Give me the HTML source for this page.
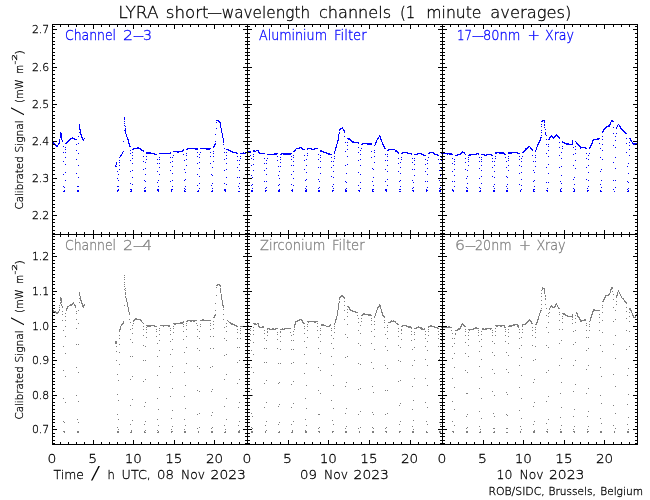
<!DOCTYPE html>
<html lang="en"><head><meta charset="utf-8"><title>LYRA short-wavelength channels</title>
<style>html,body{margin:0;padding:0;background:#fff}svg{display:block}</style></head>
<body>
<svg width="650" height="500" viewBox="0 0 650 500">
<rect width="650" height="500" fill="#fff"/>
<path shape-rendering="crispEdges" fill="none" stroke="#0000ff" stroke-width="1" d="M52.5 141v2M53.5 142v2M54.5 143v2M55.5 144v2M56.5 145v2M57.5 145v2M58.5 143v2M59.5 139v5M60.5 132v6M61.5 133v7M62.5 140v2M63.5 146v1M63.5 152v1M63.5 161v1M63.5 174v1M63.5 186v1M63.5 191v1M64.5 187v1M64.5 190v2M65.5 143v1M65.5 147v1M65.5 149v1M65.5 152v1M65.5 157v1M65.5 164v1M65.5 172v1M65.5 180v1M66.5 142v2M67.5 141v2M68.5 140v2M69.5 139v2M70.5 138v2M71.5 138v1M72.5 137v2M73.5 138v1M74.5 138v2M75.5 139v1M76.5 139v1M76.5 144v1M76.5 150v1M76.5 159v1M76.5 173v1M77.5 186v1M77.5 190v2M78.5 136v1M78.5 143v1M78.5 153v1M78.5 165v1M78.5 177v1M78.5 186v1M78.5 190v2M79.5 124v6M79.5 132v1M80.5 129v6M81.5 134v4M82.5 137v3M83.5 139v2M84.5 138v1M115.5 165v2M116.5 162v3M116.5 166v1M117.5 171v1M117.5 178v1M117.5 186v1M117.5 190v2M118.5 174v1M118.5 180v1M118.5 186v1M118.5 189v2M119.5 157v1M119.5 160v1M119.5 162v1M119.5 165v1M119.5 169v1M120.5 155v2M121.5 154v2M122.5 152v2M123.5 141v1M123.5 151v1M124.5 117v3M124.5 121v1M124.5 123v1M124.5 125v1M124.5 130v1M125.5 126v1M125.5 128v6M126.5 134v3M127.5 137v3M128.5 139v5M129.5 143v4M130.5 146v1M130.5 150v1M130.5 153v1M130.5 160v1M130.5 171v1M130.5 183v1M130.5 189v1M130.5 191v1M131.5 189v3M132.5 149v1M132.5 152v1M132.5 155v1M132.5 158v1M132.5 163v1M132.5 170v1M132.5 177v1M132.5 184v1M133.5 148v2M134.5 148v1M135.5 148v1M136.5 148v1M137.5 147v2M138.5 147v2M139.5 148v1M140.5 148v2M141.5 149v2M142.5 150v1M143.5 150v2M143.5 156v1M143.5 161v1M143.5 169v1M144.5 180v1M144.5 188v1M144.5 190v2M145.5 162v1M145.5 168v1M145.5 174v1M145.5 181v1M145.5 187v1M145.5 190v2M146.5 152v2M146.5 156v1M146.5 159v1M147.5 152v2M148.5 152v2M149.5 152v2M150.5 152v2M151.5 153v1M152.5 153v1M153.5 153v1M154.5 153v2M155.5 154v1M156.5 154v1M157.5 159v1M157.5 163v1M157.5 171v1M157.5 182v1M157.5 189v2M158.5 180v1M158.5 186v1M158.5 189v3M159.5 153v1M159.5 157v1M159.5 159v1M159.5 163v1M159.5 167v1M159.5 174v1M160.5 153v1M161.5 153v1M162.5 153v1M163.5 153v1M164.5 153v1M165.5 153v1M166.5 153v1M167.5 153v1M168.5 153v1M169.5 153v1M170.5 152v2M170.5 157v1M170.5 162v1M170.5 170v1M170.5 181v1M171.5 189v3M172.5 157v1M172.5 161v1M172.5 166v1M172.5 173v1M172.5 180v1M172.5 186v1M172.5 189v1M173.5 151v1M173.5 155v1M174.5 151v1M175.5 151v1M176.5 151v1M177.5 151v2M178.5 151v2M179.5 151v1M180.5 151v1M181.5 151v1M182.5 150v2M183.5 149v2M183.5 154v1M184.5 160v1M184.5 169v1M184.5 180v1M184.5 188v1M184.5 190v2M185.5 172v1M185.5 179v1M185.5 186v1M185.5 189v1M185.5 191v1M186.5 149v1M186.5 153v1M186.5 155v1M186.5 159v1M186.5 165v1M187.5 148v2M188.5 148v1M189.5 148v1M190.5 148v1M191.5 148v1M192.5 148v1M193.5 148v1M194.5 148v1M195.5 148v2M196.5 148v2M197.5 148v2M197.5 152v1M197.5 156v1M197.5 163v1M197.5 174v1M197.5 185v1M197.5 191v1M198.5 190v2M199.5 154v1M199.5 157v1M199.5 162v1M199.5 168v1M199.5 176v1M199.5 183v1M199.5 188v1M200.5 148v1M200.5 152v1M201.5 148v1M202.5 148v1M203.5 148v1M204.5 148v1M205.5 148v1M206.5 148v2M207.5 148v2M208.5 148v2M209.5 148v2M210.5 148v1M210.5 152v1M210.5 156v1M210.5 163v1M211.5 174v1M211.5 185v1M211.5 191v1M212.5 167v1M212.5 175v1M212.5 183v1M212.5 188v1M212.5 190v2M213.5 146v2M213.5 151v1M213.5 153v1M213.5 156v1M213.5 161v1M214.5 144v3M215.5 134v1M215.5 141v1M215.5 143v2M216.5 120v1M216.5 122v1M216.5 128v1M217.5 120v1M218.5 120v2M219.5 121v2M220.5 122v6M221.5 128v5M222.5 133v5M223.5 138v5M223.5 144v1M224.5 148v1M224.5 152v1M224.5 159v1M224.5 170v1M224.5 183v1M224.5 189v2M225.5 189v3M226.5 149v1M226.5 152v1M226.5 155v1M226.5 158v1M226.5 163v1M226.5 169v1M226.5 177v1M226.5 184v1M227.5 149v1M228.5 149v2M229.5 150v1M230.5 150v2M231.5 151v1M232.5 151v2M233.5 152v1M234.5 152v1M235.5 152v1M236.5 152v2M237.5 153v1M237.5 156v1M237.5 160v1M237.5 167v1M237.5 177v1M238.5 186v1M238.5 191v1M239.5 160v1M239.5 164v1M239.5 170v1M239.5 177v1M239.5 183v1M239.5 188v1M239.5 191v1M240.5 153v1M240.5 156v1M240.5 158v1M241.5 153v1M242.5 153v1M243.5 152v2M244.5 153v1M245.5 152v2M246.5 152v1M247.5 151v2M248.5 151v2M249.5 151v2M250.5 151v2M250.5 155v1M251.5 158v1M251.5 165v1M251.5 175v1M251.5 185v1M251.5 190v2M252.5 177v1M252.5 184v1M252.5 188v1M252.5 190v2M253.5 150v2M253.5 154v1M253.5 156v1M253.5 159v1M253.5 164v1M253.5 170v1M254.5 150v2M255.5 151v1M256.5 150v1M257.5 150v1M258.5 150v3M259.5 152v2M260.5 153v1M261.5 153v1M262.5 153v1M263.5 153v1M264.5 153v1M264.5 158v1M264.5 163v1M264.5 170v1M264.5 181v1M265.5 188v1M265.5 190v2M266.5 160v1M266.5 163v1M266.5 168v1M266.5 174v1M266.5 181v1M266.5 187v1M266.5 190v1M267.5 154v1M267.5 158v1M268.5 154v1M269.5 154v1M270.5 154v1M271.5 154v1M272.5 154v1M273.5 154v1M274.5 153v2M275.5 153v2M276.5 153v2M277.5 153v1M277.5 156v1M277.5 160v1M278.5 166v1M278.5 175v1M278.5 185v1M278.5 190v2M279.5 171v1M279.5 178v1M279.5 184v1M279.5 189v3M280.5 154v1M280.5 157v1M280.5 159v1M280.5 162v1M280.5 166v1M281.5 153v2M282.5 153v1M283.5 153v2M284.5 153v2M285.5 153v2M286.5 153v2M287.5 153v2M288.5 153v2M289.5 153v2M290.5 153v2M291.5 153v1M291.5 156v1M291.5 159v1M291.5 165v1M291.5 174v1M291.5 184v1M291.5 190v1M292.5 189v3M293.5 151v1M293.5 155v1M293.5 157v1M293.5 161v1M293.5 165v1M293.5 171v1M293.5 178v1M293.5 185v1M294.5 150v2M295.5 149v2M296.5 148v1M297.5 148v1M298.5 148v1M299.5 147v2M300.5 147v1M301.5 147v2M302.5 148v2M303.5 149v1M304.5 149v1M304.5 155v1M304.5 160v1M304.5 169v1M305.5 180v1M305.5 188v1M305.5 190v2M306.5 159v1M306.5 165v1M306.5 172v1M306.5 179v1M306.5 186v1M306.5 189v3M307.5 148v2M307.5 153v1M307.5 155v1M308.5 148v1M309.5 148v1M310.5 148v1M311.5 148v2M312.5 149v1M313.5 149v1M314.5 148v2M315.5 148v1M316.5 148v1M317.5 148v1M318.5 154v1M318.5 159v1M318.5 167v1M318.5 179v1M318.5 188v1M318.5 190v2M319.5 181v1M319.5 187v1M319.5 190v2M320.5 150v2M320.5 155v1M320.5 157v1M320.5 161v1M320.5 167v1M320.5 173v1M321.5 150v2M322.5 151v1M323.5 151v2M324.5 152v1M325.5 152v1M326.5 152v2M327.5 153v1M328.5 153v2M329.5 153v2M330.5 154v1M331.5 154v1M331.5 157v1M331.5 161v1M331.5 167v1M331.5 176v1M332.5 186v1M332.5 190v2M333.5 161v1M333.5 165v1M333.5 171v1M333.5 177v1M333.5 184v1M333.5 188v1M333.5 190v1M334.5 151v3M334.5 156v1M334.5 158v1M335.5 147v4M336.5 144v4M337.5 140v4M338.5 134v7M339.5 129v2M339.5 132v2M340.5 128v2M341.5 128v1M342.5 127v2M343.5 129v2M344.5 130v3M344.5 136v1M345.5 142v1M345.5 151v1M345.5 165v1M345.5 181v1M345.5 189v3M346.5 173v1M346.5 182v1M346.5 188v1M346.5 190v2M347.5 138v1M347.5 142v1M347.5 145v1M347.5 149v1M347.5 156v1M347.5 164v1M348.5 138v2M349.5 138v2M350.5 139v2M351.5 140v2M352.5 141v2M353.5 141v2M354.5 142v1M355.5 142v1M356.5 142v1M357.5 142v1M358.5 142v2M358.5 147v1M358.5 152v1M358.5 160v1M358.5 172v1M358.5 185v1M358.5 190v1M359.5 190v2M360.5 150v1M360.5 154v1M360.5 159v1M360.5 165v1M360.5 174v1M360.5 182v1M360.5 188v1M361.5 144v1M361.5 148v1M362.5 143v2M363.5 143v1M364.5 143v1M365.5 143v1M366.5 143v1M367.5 143v2M368.5 143v2M369.5 143v2M370.5 143v2M371.5 143v2M371.5 151v1M371.5 157v1M372.5 168v1M372.5 181v1M372.5 189v3M373.5 169v1M373.5 177v1M373.5 185v1M373.5 189v1M373.5 191v1M374.5 145v1M374.5 150v1M374.5 152v1M374.5 156v1M374.5 162v1M375.5 142v3M376.5 140v3M377.5 138v2M378.5 137v2M379.5 135v2M380.5 136v4M381.5 139v3M382.5 142v3M383.5 144v3M384.5 146v3M385.5 148v1M385.5 154v1M385.5 160v1M385.5 169v1M385.5 181v1M385.5 189v2M386.5 189v3M387.5 150v1M387.5 154v1M387.5 156v1M387.5 160v1M387.5 165v1M387.5 171v1M387.5 179v1M387.5 185v1M388.5 149v2M389.5 149v1M390.5 149v1M391.5 149v1M392.5 149v1M393.5 149v1M394.5 149v1M395.5 150v2M396.5 150v2M397.5 151v2M398.5 152v2M398.5 158v1M398.5 163v1M398.5 171v1M399.5 181v1M399.5 189v1M399.5 191v1M400.5 162v1M400.5 167v1M400.5 173v1M400.5 180v1M400.5 186v1M400.5 189v1M400.5 191v1M401.5 153v1M401.5 157v1M401.5 159v1M402.5 152v2M403.5 152v1M404.5 152v1M405.5 152v1M406.5 152v1M407.5 152v2M408.5 153v1M409.5 153v1M410.5 153v1M411.5 153v2M412.5 158v1M412.5 162v1M412.5 169v1M412.5 180v1M412.5 188v1M412.5 190v1M413.5 182v1M413.5 187v1M413.5 190v2M414.5 154v1M414.5 158v1M414.5 160v1M414.5 164v1M414.5 169v1M414.5 175v1M415.5 154v1M416.5 154v1M417.5 153v2M418.5 153v1M419.5 153v1M420.5 153v1M421.5 153v2M422.5 154v1M423.5 154v2M424.5 155v1M425.5 155v1M425.5 159v1M425.5 164v1M425.5 171v1M425.5 181v1M426.5 189v3M427.5 160v1M427.5 163v1M427.5 168v1M427.5 174v1M427.5 181v1M427.5 187v1M427.5 190v1M428.5 153v1M428.5 157v1M429.5 152v2M430.5 152v1M431.5 152v1M432.5 152v1M433.5 152v2M434.5 153v2M435.5 154v1M436.5 154v1M437.5 154v2M438.5 155v1M438.5 159v1M439.5 163v1M439.5 170v1M439.5 180v1M439.5 188v1M439.5 190v2M440.5 175v1M440.5 182v1M440.5 187v1M440.5 190v2M441.5 153v1M441.5 157v1M441.5 160v1M441.5 163v1M441.5 168v1M442.5 153v1M443.5 153v1M444.5 153v1M445.5 153v1M446.5 153v1M447.5 153v2M448.5 153v1M449.5 153v2M450.5 153v2M451.5 153v2M452.5 154v1M452.5 158v1M452.5 163v1M452.5 171v1M452.5 181v1M452.5 189v2M453.5 190v2M454.5 159v1M454.5 161v1M454.5 164v1M454.5 169v1M454.5 175v1M454.5 181v1M454.5 186v1M455.5 155v1M456.5 155v1M457.5 154v2M458.5 154v1M459.5 154v1M460.5 153v2M461.5 152v2M462.5 151v2M463.5 152v1M464.5 152v2M465.5 154v1M465.5 158v1M465.5 162v1M465.5 169v1M466.5 178v1M466.5 187v1M466.5 190v2M467.5 170v1M467.5 176v1M467.5 183v1M467.5 188v1M467.5 190v2M468.5 155v1M468.5 157v1M468.5 159v1M468.5 161v1M468.5 165v1M469.5 154v2M470.5 154v2M471.5 154v1M472.5 154v1M473.5 154v1M474.5 154v1M475.5 154v1M476.5 153v2M477.5 153v1M478.5 153v2M479.5 157v1M479.5 161v1M479.5 168v1M479.5 178v1M479.5 187v1M479.5 191v1M480.5 188v1M480.5 190v2M481.5 154v1M481.5 157v1M481.5 159v1M481.5 161v1M481.5 165v1M481.5 170v1M481.5 176v1M481.5 183v1M482.5 154v1M483.5 154v1M484.5 154v2M485.5 155v1M486.5 154v2M487.5 154v1M488.5 154v1M489.5 154v1M490.5 154v1M491.5 154v2M492.5 155v1M492.5 158v1M492.5 161v1M492.5 167v1M492.5 176v1M493.5 186v1M493.5 190v2M494.5 161v1M494.5 165v1M494.5 171v1M494.5 177v1M494.5 184v1M494.5 188v1M494.5 190v2M495.5 152v2M495.5 156v1M495.5 158v1M496.5 152v2M497.5 152v1M498.5 152v1M499.5 152v2M500.5 152v2M501.5 152v2M502.5 152v2M503.5 152v2M504.5 153v2M505.5 154v1M505.5 157v1M506.5 161v1M506.5 167v1M506.5 176v1M506.5 186v1M506.5 190v2M507.5 177v1M507.5 184v1M507.5 188v1M507.5 190v2M508.5 152v2M508.5 156v1M508.5 158v1M508.5 160v1M508.5 165v1M508.5 170v1M509.5 152v2M510.5 152v2M511.5 152v2M512.5 152v1M513.5 152v1M514.5 152v1M515.5 152v1M516.5 152v1M517.5 152v2M518.5 153v1M519.5 153v1M519.5 156v1M519.5 159v1M519.5 165v1M519.5 173v1M519.5 184v1M520.5 190v2M521.5 158v1M521.5 161v1M521.5 166v1M521.5 172v1M521.5 179v1M521.5 185v1M521.5 189v1M522.5 152v1M522.5 156v1M523.5 151v2M524.5 150v2M525.5 148v3M526.5 148v2M527.5 147v2M528.5 146v2M529.5 146v1M530.5 147v2M531.5 148v2M532.5 149v2M532.5 155v1M533.5 161v1M533.5 170v1M533.5 181v1M533.5 189v3M534.5 172v1M534.5 180v1M534.5 186v1M534.5 189v1M534.5 191v1M535.5 150v2M535.5 155v1M535.5 157v1M535.5 161v1M535.5 166v1M536.5 147v3M537.5 144v3M538.5 142v3M539.5 140v3M540.5 137v4M541.5 121v1M541.5 124v1M541.5 126v1M541.5 130v1M541.5 132v1M541.5 135v1M541.5 137v1M542.5 120v2M543.5 120v1M544.5 120v3M544.5 124v2M544.5 127v1M545.5 129v1M545.5 132v3M546.5 135v1M546.5 139v1M546.5 144v1M546.5 153v1M546.5 167v1M546.5 182v1M546.5 190v1M547.5 188v1M547.5 190v2M548.5 139v1M548.5 144v1M548.5 146v1M548.5 150v1M548.5 156v1M548.5 164v1M548.5 173v1M548.5 182v1M549.5 137v3M550.5 136v2M551.5 135v2M552.5 136v2M553.5 137v2M554.5 136v2M555.5 135v2M556.5 134v2M557.5 135v2M558.5 136v2M559.5 137v2M559.5 142v1M559.5 147v1M559.5 155v1M559.5 167v1M560.5 181v1M560.5 189v3M561.5 152v1M561.5 158v1M561.5 166v1M561.5 175v1M561.5 183v1M561.5 188v1M561.5 191v1M562.5 141v2M562.5 146v1M562.5 148v1M563.5 142v1M564.5 142v2M565.5 143v1M566.5 143v2M567.5 143v2M568.5 143v2M569.5 144v1M570.5 144v1M571.5 144v1M572.5 140v5M573.5 147v1M573.5 154v1M573.5 165v1M573.5 179v1M573.5 188v1M573.5 191v1M574.5 177v1M574.5 184v1M574.5 189v3M575.5 141v1M575.5 146v1M575.5 149v1M575.5 153v1M575.5 160v1M575.5 168v1M576.5 142v2M577.5 143v2M578.5 144v2M579.5 145v2M580.5 146v3M581.5 147v1M582.5 147v1M583.5 147v1M584.5 147v1M585.5 147v2M586.5 148v1M586.5 153v1M586.5 158v1M586.5 167v1M586.5 179v1M587.5 188v1M587.5 190v2M588.5 155v1M588.5 159v1M588.5 165v1M588.5 172v1M588.5 180v1M588.5 186v1M588.5 190v1M589.5 147v2M589.5 153v1M590.5 145v3M591.5 143v3M592.5 140v4M593.5 139v2M594.5 139v1M595.5 139v1M596.5 139v1M597.5 138v2M598.5 138v2M599.5 138v1M599.5 143v1M600.5 148v1M600.5 157v1M600.5 171v1M600.5 184v1M600.5 190v2M601.5 169v1M601.5 180v1M601.5 187v1M601.5 191v1M602.5 131v2M602.5 136v1M602.5 139v1M602.5 144v1M602.5 150v1M602.5 159v1M603.5 129v3M604.5 128v2M605.5 127v2M606.5 126v2M607.5 126v1M608.5 125v2M609.5 124v3M610.5 122v3M611.5 120v2M612.5 120v2M613.5 121v1M613.5 127v1M613.5 133v1M613.5 145v1M613.5 162v1M613.5 180v1M613.5 189v1M614.5 191v1M615.5 136v1M615.5 140v1M615.5 147v1M615.5 157v1M615.5 168v1M615.5 180v1M615.5 187v1M616.5 127v2M616.5 133v1M617.5 125v2M618.5 124v1M619.5 125v2M620.5 126v3M621.5 128v2M622.5 129v2M623.5 130v2M624.5 131v2M625.5 132v2M626.5 133v1M626.5 138v1M626.5 143v1M626.5 152v1M627.5 166v1M627.5 181v1M627.5 189v1M627.5 191v1M628.5 163v1M628.5 173v1M628.5 182v1M628.5 188v1M628.5 190v2M629.5 138v1M629.5 142v1M629.5 145v1M629.5 149v1M629.5 155v1M630.5 138v3M631.5 140v2M632.5 142v2M633.5 143v2M634.5 143v2M635.5 143v1M636.5 143v1M637.5 143v1"/>
<path shape-rendering="crispEdges" fill="none" stroke="#7f7f7f" stroke-width="1" d="M52.5 309v2M53.5 310v2M54.5 311v2M55.5 311v2M56.5 312v2M57.5 312v2M58.5 311v2M59.5 305v1M59.5 307v1M59.5 309v2M60.5 297v4M60.5 302v2M61.5 298v5M61.5 304v2M62.5 306v2M62.5 311v1M62.5 314v1M62.5 320v1M63.5 330v1M63.5 346v1M63.5 370v1M63.5 398v1M63.5 421v1M63.5 431v1M64.5 422v1M64.5 431v2M65.5 313v1M65.5 316v1M65.5 320v1M65.5 326v1M65.5 336v1M65.5 353v1M65.5 376v1M65.5 402v1M66.5 308v3M67.5 306v3M68.5 306v1M69.5 305v1M70.5 304v2M71.5 304v2M72.5 303v2M73.5 302v2M74.5 304v2M75.5 305v3M76.5 311v1M76.5 313v1M76.5 319v1M76.5 328v1M76.5 344v1M76.5 367v1M76.5 395v1M77.5 419v1M77.5 431v2M78.5 310v1M78.5 323v1M78.5 344v1M78.5 372v1M78.5 401v1M78.5 422v1M78.5 431v2M79.5 292v4M79.5 298v1M79.5 302v1M80.5 296v5M81.5 300v4M82.5 303v4M83.5 305v3M84.5 304v2M115.5 341v3M116.5 341v3M116.5 346v1M116.5 351v1M116.5 360v1M117.5 374v1M117.5 394v1M117.5 414v1M117.5 427v1M117.5 431v2M118.5 380v1M118.5 400v1M118.5 419v1M118.5 429v1M118.5 431v2M119.5 329v3M119.5 335v1M119.5 338v1M119.5 344v1M119.5 352v1M119.5 364v1M120.5 326v4M121.5 324v2M122.5 323v2M123.5 321v3M124.5 275v1M124.5 277v1M124.5 279v1M124.5 282v1M124.5 284v1M124.5 286v1M124.5 289v1M124.5 305v1M125.5 288v1M125.5 290v1M125.5 292v3M125.5 296v2M126.5 298v4M127.5 302v5M128.5 307v5M129.5 312v3M129.5 319v1M130.5 322v1M130.5 329v1M130.5 339v1M130.5 356v1M130.5 379v1M130.5 405v1M130.5 424v1M130.5 432v1M131.5 430v3M132.5 325v1M132.5 328v1M132.5 333v1M132.5 342v1M132.5 356v1M132.5 376v1M132.5 399v1M132.5 420v1M133.5 320v2M133.5 323v1M134.5 319v2M135.5 318v2M136.5 318v2M137.5 319v1M138.5 319v1M139.5 319v1M140.5 319v2M141.5 320v2M142.5 322v1M143.5 323v1M143.5 326v1M143.5 329v1M143.5 335v1M143.5 345v1M143.5 360v1M143.5 381v1M144.5 406v1M144.5 424v1M144.5 431v2M145.5 346v1M145.5 360v1M145.5 379v1M145.5 402v1M145.5 421v1M145.5 430v1M145.5 432v1M146.5 325v1M146.5 327v1M146.5 329v1M146.5 332v1M146.5 337v1M147.5 325v2M148.5 325v2M149.5 325v2M150.5 325v2M151.5 325v1M152.5 325v1M153.5 325v1M154.5 325v2M155.5 326v1M156.5 326v1M156.5 329v1M156.5 331v1M156.5 336v1M157.5 343v1M157.5 356v1M157.5 375v1M157.5 398v1M157.5 419v1M157.5 430v1M157.5 432v1M158.5 409v1M158.5 425v1M158.5 431v2M159.5 328v1M159.5 330v1M159.5 334v1M159.5 340v1M159.5 350v1M159.5 366v1M159.5 387v1M160.5 325v1M161.5 325v1M162.5 325v1M163.5 325v2M164.5 325v1M165.5 325v1M166.5 325v1M167.5 325v1M168.5 325v2M169.5 325v2M170.5 328v1M170.5 330v1M170.5 334v1M170.5 341v1M170.5 354v1M170.5 372v1M170.5 396v1M171.5 418v1M171.5 429v1M171.5 431v2M172.5 339v1M172.5 349v1M172.5 366v1M172.5 388v1M172.5 410v1M172.5 426v1M172.5 431v1M173.5 323v1M173.5 326v1M173.5 328v1M173.5 332v1M174.5 323v2M175.5 323v2M176.5 323v1M177.5 323v1M178.5 323v1M179.5 323v1M180.5 322v2M181.5 322v2M182.5 322v2M183.5 321v2M183.5 324v1M183.5 326v1M183.5 331v1M183.5 339v1M184.5 352v1M184.5 372v1M184.5 396v1M184.5 419v1M184.5 429v1M184.5 431v2M185.5 385v1M185.5 408v1M185.5 425v1M185.5 431v2M186.5 321v1M186.5 323v1M186.5 325v1M186.5 329v1M186.5 336v1M186.5 347v1M186.5 363v1M187.5 320v2M188.5 320v1M189.5 320v1M190.5 320v2M191.5 320v2M192.5 320v1M193.5 320v2M194.5 320v2M195.5 320v1M196.5 320v1M196.5 323v1M197.5 325v1M197.5 329v1M197.5 336v1M197.5 348v1M197.5 366v1M197.5 390v1M197.5 414v1M197.5 428v1M198.5 431v2M199.5 331v1M199.5 338v1M199.5 350v1M199.5 368v1M199.5 391v1M199.5 413v1M199.5 427v1M200.5 320v1M200.5 324v1M200.5 326v1M201.5 320v1M202.5 319v2M203.5 319v2M204.5 320v1M205.5 320v1M206.5 320v1M207.5 320v1M208.5 320v1M209.5 320v1M210.5 320v1M210.5 323v1M210.5 325v1M210.5 329v1M210.5 336v1M210.5 348v1M210.5 367v1M211.5 391v1M211.5 415v1M211.5 428v1M211.5 431v2M212.5 366v1M212.5 389v1M212.5 412v1M212.5 427v1M212.5 431v2M213.5 317v1M213.5 321v1M213.5 324v1M213.5 328v1M213.5 336v1M213.5 348v1M214.5 315v3M215.5 303v1M215.5 310v1M215.5 314v2M216.5 285v1M216.5 287v1M216.5 295v1M217.5 284v2M218.5 284v1M219.5 284v2M220.5 285v2M220.5 288v5M221.5 294v6M222.5 300v6M223.5 305v3M223.5 309v1M223.5 314v1M223.5 319v1M224.5 327v1M224.5 338v1M224.5 355v1M224.5 379v1M224.5 406v1M224.5 425v1M224.5 432v1M225.5 429v1M225.5 431v2M226.5 323v1M226.5 326v1M226.5 331v1M226.5 340v1M226.5 354v1M226.5 374v1M226.5 398v1M226.5 419v1M227.5 320v1M228.5 321v1M229.5 322v1M230.5 322v2M231.5 323v2M232.5 323v2M233.5 324v1M234.5 324v2M235.5 325v1M236.5 325v2M237.5 326v1M237.5 329v1M237.5 332v1M237.5 338v1M237.5 347v1M237.5 362v1M237.5 383v1M238.5 407v1M238.5 425v1M238.5 431v2M239.5 347v1M239.5 360v1M239.5 379v1M239.5 402v1M239.5 421v1M239.5 430v3M240.5 326v1M240.5 328v1M240.5 330v1M240.5 333v1M240.5 338v1M241.5 326v1M242.5 326v1M243.5 326v1M244.5 326v1M245.5 326v1M246.5 326v1M247.5 325v2M248.5 325v2M249.5 326v1M250.5 326v1M250.5 328v1M250.5 330v1M250.5 334v1M250.5 340v1M251.5 350v1M251.5 367v1M251.5 389v1M251.5 413v1M251.5 427v1M251.5 431v2M252.5 395v1M252.5 416v1M252.5 428v1M252.5 431v2M253.5 323v1M253.5 327v1M253.5 330v1M253.5 334v1M253.5 342v1M253.5 354v1M253.5 372v1M254.5 323v2M255.5 323v2M256.5 324v1M257.5 323v1M258.5 323v4M259.5 326v2M260.5 327v1M261.5 327v1M262.5 326v2M263.5 326v2M264.5 330v1M264.5 333v1M264.5 338v1M264.5 348v1M264.5 362v1M264.5 383v1M264.5 407v1M265.5 425v1M265.5 431v2M266.5 340v1M266.5 348v1M266.5 362v1M266.5 380v1M266.5 402v1M266.5 421v1M266.5 430v1M267.5 328v2M267.5 331v2M267.5 335v1M268.5 328v1M269.5 328v2M270.5 329v1M271.5 329v1M272.5 328v2M273.5 328v2M274.5 329v1M275.5 328v2M276.5 328v1M277.5 328v1M277.5 332v1M277.5 334v1M277.5 339v1M277.5 348v1M278.5 363v1M278.5 383v1M278.5 406v1M278.5 424v1M278.5 432v1M279.5 382v1M279.5 404v1M279.5 422v1M279.5 431v2M280.5 329v1M280.5 331v2M280.5 336v1M280.5 341v1M280.5 349v1M280.5 363v1M281.5 329v1M282.5 328v2M283.5 329v1M284.5 328v2M285.5 328v1M286.5 328v1M287.5 328v1M288.5 328v1M289.5 328v1M290.5 328v1M290.5 332v1M291.5 335v1M291.5 340v1M291.5 349v1M291.5 363v1M291.5 384v1M291.5 407v1M291.5 424v1M291.5 432v1M292.5 430v3M293.5 331v1M293.5 334v1M293.5 340v1M293.5 349v1M293.5 362v1M293.5 381v1M293.5 403v1M293.5 421v1M294.5 324v4M294.5 329v1M295.5 321v4M296.5 321v1M297.5 320v2M298.5 320v1M299.5 319v2M300.5 319v1M301.5 319v2M302.5 320v3M303.5 322v2M304.5 323v1M304.5 326v1M304.5 328v1M304.5 333v1M304.5 341v1M304.5 354v1M304.5 373v1M305.5 398v1M305.5 419v1M305.5 430v3M306.5 347v1M306.5 363v1M306.5 385v1M306.5 408v1M306.5 425v1M306.5 431v2M307.5 321v1M307.5 324v1M307.5 326v1M307.5 330v1M307.5 337v1M308.5 321v2M309.5 321v1M310.5 321v1M311.5 321v1M312.5 321v1M313.5 321v1M314.5 321v2M315.5 321v2M316.5 321v1M317.5 321v1M317.5 323v1M317.5 326v1M317.5 330v1M318.5 337v1M318.5 348v1M318.5 367v1M318.5 390v1M318.5 414v1M318.5 428v1M318.5 431v1M319.5 414v1M319.5 427v1M319.5 431v2M320.5 328v1M320.5 330v1M320.5 334v1M320.5 341v1M320.5 353v1M320.5 370v1M320.5 393v1M321.5 324v2M322.5 324v2M323.5 324v2M324.5 325v1M325.5 325v1M326.5 326v1M327.5 326v1M328.5 326v1M329.5 325v2M330.5 324v2M331.5 328v1M331.5 330v1M331.5 335v1M331.5 343v1M331.5 356v1M331.5 375v1M331.5 400v1M332.5 420v1M332.5 431v2M333.5 338v1M333.5 348v1M333.5 364v1M333.5 385v1M333.5 408v1M333.5 424v1M333.5 431v1M334.5 323v2M334.5 326v1M334.5 328v1M334.5 332v1M335.5 319v4M336.5 316v4M337.5 310v6M338.5 303v7M339.5 297v3M339.5 301v2M340.5 296v2M341.5 295v2M342.5 295v2M343.5 296v2M344.5 297v2M344.5 301v1M344.5 305v1M344.5 310v1M344.5 319v1M345.5 334v1M345.5 357v1M345.5 386v1M345.5 413v1M345.5 428v1M345.5 431v2M346.5 382v1M346.5 408v1M346.5 426v1M346.5 431v2M347.5 306v1M347.5 309v1M347.5 312v1M347.5 316v1M347.5 324v1M347.5 337v1M347.5 356v1M348.5 306v2M349.5 307v3M350.5 309v2M351.5 310v1M352.5 310v2M353.5 311v1M354.5 311v1M355.5 311v2M356.5 312v1M357.5 312v1M357.5 315v1M358.5 318v1M358.5 322v1M358.5 330v1M358.5 343v1M358.5 363v1M358.5 389v1M358.5 414v1M358.5 428v1M359.5 431v2M360.5 325v1M360.5 333v1M360.5 345v1M360.5 364v1M360.5 388v1M360.5 411v1M360.5 427v1M361.5 315v1M361.5 318v1M361.5 321v1M362.5 314v2M363.5 313v2M364.5 313v2M365.5 314v1M366.5 314v1M367.5 314v1M368.5 314v2M369.5 314v2M370.5 314v2M371.5 315v1M371.5 318v1M371.5 320v1M371.5 324v1M371.5 331v1M371.5 343v1M371.5 362v1M372.5 386v1M372.5 412v1M372.5 427v1M372.5 431v2M373.5 368v1M373.5 392v1M373.5 414v1M373.5 428v1M373.5 431v2M374.5 316v2M374.5 321v1M374.5 324v1M374.5 329v1M374.5 336v1M374.5 349v1M375.5 313v3M376.5 310v3M377.5 307v3M378.5 306v2M379.5 304v3M380.5 305v4M381.5 309v4M382.5 312v4M383.5 315v2M384.5 316v2M384.5 320v1M384.5 322v1M384.5 327v1M385.5 334v1M385.5 346v1M385.5 365v1M385.5 390v1M385.5 414v1M385.5 428v1M385.5 431v1M386.5 427v1M386.5 431v2M387.5 325v1M387.5 327v1M387.5 331v1M387.5 338v1M387.5 350v1M387.5 368v1M387.5 390v1M387.5 413v1M388.5 322v1M389.5 322v1M390.5 321v2M391.5 320v2M392.5 321v1M393.5 320v2M394.5 321v1M395.5 321v2M396.5 323v1M397.5 323v2M398.5 324v1M398.5 328v1M398.5 331v1M398.5 336v1M398.5 345v1M398.5 360v1M398.5 381v1M399.5 405v1M399.5 424v1M399.5 431v2M400.5 347v1M400.5 361v1M400.5 380v1M400.5 403v1M400.5 421v1M400.5 431v1M401.5 326v1M401.5 329v2M401.5 333v1M401.5 339v1M402.5 325v2M403.5 325v1M404.5 325v1M405.5 325v1M406.5 325v2M407.5 326v1M408.5 326v2M409.5 326v2M410.5 326v2M411.5 327v2M411.5 331v1M411.5 334v1M411.5 340v1M412.5 349v1M412.5 365v1M412.5 386v1M412.5 409v1M412.5 426v1M412.5 431v2M413.5 400v1M413.5 420v1M413.5 429v1M413.5 431v2M414.5 328v1M414.5 332v1M414.5 334v1M414.5 339v1M414.5 347v1M414.5 360v1M414.5 378v1M415.5 328v1M416.5 327v2M417.5 327v1M418.5 326v2M419.5 327v1M420.5 327v2M421.5 327v3M422.5 328v2M423.5 329v1M424.5 328v2M425.5 331v1M425.5 334v1M425.5 338v1M425.5 346v1M425.5 359v1M425.5 378v1M425.5 402v1M426.5 421v1M426.5 431v2M427.5 341v1M427.5 350v1M427.5 365v1M427.5 385v1M427.5 407v1M427.5 424v1M427.5 432v1M428.5 326v2M428.5 329v1M428.5 331v1M428.5 335v1M429.5 326v1M430.5 325v2M431.5 325v2M432.5 326v1M433.5 326v1M434.5 326v2M435.5 327v1M436.5 327v1M437.5 327v2M438.5 328v1M438.5 331v1M438.5 334v1M438.5 338v1M438.5 346v1M439.5 359v1M439.5 379v1M439.5 402v1M439.5 422v1M439.5 431v2M440.5 385v1M440.5 407v1M440.5 424v1M440.5 431v2M441.5 327v1M441.5 329v1M441.5 331v1M441.5 334v1M441.5 340v1M441.5 350v1M441.5 364v1M442.5 326v2M443.5 327v1M444.5 326v2M445.5 326v2M446.5 326v2M447.5 327v1M448.5 326v2M449.5 326v2M450.5 327v1M451.5 327v1M451.5 330v1M452.5 333v1M452.5 338v1M452.5 346v1M452.5 358v1M452.5 378v1M452.5 401v1M452.5 421v1M452.5 431v1M453.5 431v2M454.5 338v1M454.5 343v1M454.5 353v1M454.5 367v1M454.5 387v1M454.5 409v1M454.5 425v1M455.5 330v1M455.5 333v2M456.5 330v1M457.5 329v2M458.5 328v2M459.5 328v2M460.5 326v3M461.5 324v3M462.5 323v2M463.5 324v2M464.5 325v2M465.5 326v1M465.5 329v1M465.5 331v1M465.5 335v1M465.5 342v1M465.5 353v1M465.5 370v1M466.5 393v1M466.5 416v1M466.5 428v1M466.5 431v2M467.5 372v1M467.5 393v1M467.5 414v1M467.5 427v1M467.5 431v2M468.5 329v1M468.5 332v1M468.5 335v1M468.5 339v1M468.5 345v1M468.5 356v1M469.5 329v2M470.5 329v1M471.5 329v1M472.5 329v1M473.5 328v2M474.5 328v1M475.5 327v2M476.5 327v2M477.5 328v1M478.5 328v1M478.5 330v1M478.5 332v1M478.5 335v1M479.5 341v1M479.5 351v1M479.5 366v1M479.5 388v1M479.5 411v1M479.5 426v1M479.5 432v1M480.5 429v1M480.5 431v2M481.5 331v1M481.5 334v1M481.5 339v1M481.5 346v1M481.5 359v1M481.5 377v1M481.5 398v1M481.5 418v1M482.5 328v2M483.5 328v2M484.5 329v1M485.5 328v2M486.5 328v2M487.5 328v1M488.5 328v1M489.5 328v1M490.5 328v2M491.5 328v1M492.5 330v1M492.5 332v1M492.5 335v1M492.5 341v1M492.5 352v1M492.5 369v1M492.5 391v1M493.5 413v1M493.5 428v1M493.5 432v1M494.5 343v1M494.5 355v1M494.5 373v1M494.5 395v1M494.5 416v1M494.5 428v1M494.5 431v2M495.5 325v1M495.5 328v1M495.5 331v1M495.5 335v1M496.5 325v2M497.5 325v2M498.5 325v1M499.5 325v1M500.5 325v2M501.5 325v2M502.5 325v1M503.5 325v1M504.5 325v3M505.5 327v1M505.5 329v1M505.5 331v1M505.5 335v1M505.5 341v1M506.5 352v1M506.5 369v1M506.5 392v1M506.5 414v1M506.5 428v1M506.5 432v1M507.5 394v1M507.5 415v1M507.5 428v1M507.5 432v1M508.5 326v1M508.5 329v1M508.5 332v1M508.5 336v1M508.5 343v1M508.5 355v1M508.5 372v1M509.5 325v2M510.5 325v2M511.5 325v2M512.5 325v1M513.5 324v2M514.5 324v2M515.5 324v1M516.5 324v1M517.5 324v3M518.5 325v3M519.5 329v1M519.5 332v1M519.5 338v1M519.5 348v1M519.5 365v1M519.5 387v1M519.5 410v1M520.5 426v1M520.5 431v2M521.5 337v1M521.5 345v1M521.5 357v1M521.5 375v1M521.5 398v1M521.5 418v1M521.5 429v1M522.5 324v3M522.5 329v1M522.5 332v1M523.5 324v1M524.5 324v1M525.5 323v2M526.5 322v2M527.5 321v2M528.5 320v2M529.5 319v2M530.5 320v2M531.5 321v3M532.5 323v1M532.5 327v1M532.5 330v1M532.5 335v1M532.5 345v1M533.5 360v1M533.5 382v1M533.5 406v1M533.5 424v1M533.5 431v2M534.5 379v1M534.5 402v1M534.5 421v1M534.5 430v3M535.5 324v1M535.5 327v1M535.5 329v1M535.5 332v1M535.5 337v1M535.5 346v1M535.5 359v1M536.5 322v3M537.5 319v4M538.5 316v4M539.5 313v3M540.5 310v3M541.5 290v1M541.5 293v1M541.5 296v1M541.5 300v1M541.5 304v1M541.5 308v1M541.5 310v1M542.5 287v3M543.5 288v1M544.5 288v6M545.5 295v2M545.5 298v2M545.5 304v1M546.5 308v1M546.5 315v1M546.5 327v1M546.5 345v1M546.5 372v1M546.5 401v1M546.5 423v1M546.5 431v1M547.5 429v1M547.5 431v2M548.5 313v1M548.5 316v1M548.5 322v1M548.5 332v1M548.5 347v1M548.5 370v1M548.5 396v1M548.5 419v1M549.5 308v2M549.5 312v1M550.5 306v2M551.5 305v2M552.5 306v2M553.5 307v1M554.5 306v2M555.5 304v3M556.5 303v2M557.5 305v2M558.5 307v2M559.5 308v1M559.5 312v1M559.5 314v1M559.5 320v1M559.5 329v1M559.5 343v1M559.5 365v1M560.5 393v1M560.5 417v1M560.5 429v1M560.5 431v2M561.5 340v1M561.5 358v1M561.5 382v1M561.5 407v1M561.5 425v1M561.5 431v2M562.5 313v1M562.5 316v1M562.5 318v1M562.5 322v1M562.5 329v1M563.5 313v2M564.5 313v2M565.5 314v2M566.5 315v1M567.5 315v2M568.5 316v1M569.5 316v1M570.5 316v1M571.5 316v1M572.5 314v4M572.5 319v1M572.5 323v1M573.5 331v1M573.5 344v1M573.5 365v1M573.5 391v1M573.5 416v1M573.5 429v1M573.5 431v1M574.5 409v1M574.5 426v1M574.5 431v2M575.5 315v1M575.5 318v1M575.5 322v1M575.5 330v1M575.5 342v1M575.5 360v1M575.5 384v1M576.5 312v2M577.5 313v4M578.5 316v2M579.5 317v3M580.5 319v3M581.5 320v2M582.5 320v1M583.5 320v1M584.5 319v2M585.5 319v2M586.5 323v1M586.5 325v1M586.5 330v1M586.5 337v1M586.5 350v1M586.5 369v1M586.5 393v1M587.5 416v1M587.5 429v1M587.5 431v2M588.5 337v1M588.5 348v1M588.5 365v1M588.5 388v1M588.5 411v1M588.5 426v1M588.5 431v1M589.5 321v1M589.5 324v1M589.5 326v1M589.5 330v1M590.5 317v4M591.5 314v4M592.5 311v4M593.5 309v3M594.5 309v2M595.5 310v1M596.5 310v1M597.5 310v1M598.5 310v1M599.5 310v1M599.5 314v1M599.5 317v1M599.5 322v1M599.5 330v1M600.5 345v1M600.5 367v1M600.5 395v1M600.5 418v1M600.5 431v2M601.5 376v1M601.5 403v1M601.5 423v1M601.5 431v2M602.5 301v1M602.5 305v1M602.5 307v1M602.5 312v1M602.5 320v1M602.5 332v1M602.5 351v1M603.5 299v3M604.5 297v3M605.5 295v3M606.5 295v1M607.5 295v1M608.5 294v2M609.5 293v2M610.5 289v4M611.5 287v3M612.5 287v2M612.5 291v1M613.5 294v1M613.5 299v1M613.5 307v1M613.5 321v1M613.5 344v1M613.5 374v1M613.5 405v1M613.5 425v1M614.5 431v2M615.5 310v1M615.5 319v1M615.5 335v1M615.5 358v1M615.5 386v1M615.5 413v1M615.5 428v1M616.5 295v3M616.5 301v1M616.5 304v1M617.5 292v4M618.5 290v2M619.5 292v2M620.5 294v2M621.5 296v2M622.5 298v1M623.5 298v2M624.5 300v2M625.5 301v2M626.5 302v2M626.5 307v1M626.5 311v1M626.5 318v1M626.5 330v1M626.5 349v1M627.5 375v1M627.5 404v1M627.5 424v1M627.5 431v2M628.5 368v1M628.5 394v1M628.5 417v1M628.5 429v1M628.5 431v2M629.5 308v2M629.5 312v1M629.5 316v1M629.5 321v1M629.5 331v1M629.5 346v1M630.5 308v3M631.5 310v3M632.5 313v3M633.5 315v3M634.5 317v1M635.5 315v3M636.5 314v2M637.5 315v1"/>
<path shape-rendering="crispEdges" fill="none" stroke="#000" stroke-width="1" d="M52.5 24V445M247.5 24V445M442.5 24V445M637.5 24V445M52 24.5H638M52 234.5H638M52 444.5H638M52.5 24V29M52.5 230V239M52.5 440V445M60.5 24V27M60.5 232V237M60.5 442V445M68.5 24V27M68.5 232V237M68.5 442V445M76.5 24V27M76.5 232V237M76.5 442V445M84.5 24V27M84.5 232V237M84.5 442V445M93.5 24V29M93.5 230V239M93.5 440V445M101.5 24V27M101.5 232V237M101.5 442V445M109.5 24V27M109.5 232V237M109.5 442V445M117.5 24V27M117.5 232V237M117.5 442V445M125.5 24V27M125.5 232V237M125.5 442V445M133.5 24V29M133.5 230V239M133.5 440V445M141.5 24V27M141.5 232V237M141.5 442V445M150.5 24V27M150.5 232V237M150.5 442V445M158.5 24V27M158.5 232V237M158.5 442V445M166.5 24V27M166.5 232V237M166.5 442V445M174.5 24V29M174.5 230V239M174.5 440V445M182.5 24V27M182.5 232V237M182.5 442V445M190.5 24V27M190.5 232V237M190.5 442V445M198.5 24V27M198.5 232V237M198.5 442V445M206.5 24V27M206.5 232V237M206.5 442V445M214.5 24V29M214.5 230V239M214.5 440V445M223.5 24V27M223.5 232V237M223.5 442V445M231.5 24V27M231.5 232V237M231.5 442V445M239.5 24V27M239.5 232V237M239.5 442V445M247.5 24V29M247.5 230V239M247.5 440V445M255.5 24V27M255.5 232V237M255.5 442V445M263.5 24V27M263.5 232V237M263.5 442V445M271.5 24V27M271.5 232V237M271.5 442V445M280.5 24V27M280.5 232V237M280.5 442V445M288.5 24V29M288.5 230V239M288.5 440V445M296.5 24V27M296.5 232V237M296.5 442V445M304.5 24V27M304.5 232V237M304.5 442V445M312.5 24V27M312.5 232V237M312.5 442V445M320.5 24V27M320.5 232V237M320.5 442V445M328.5 24V29M328.5 230V239M328.5 440V445M336.5 24V27M336.5 232V237M336.5 442V445M344.5 24V27M344.5 232V237M344.5 442V445M353.5 24V27M353.5 232V237M353.5 442V445M361.5 24V27M361.5 232V237M361.5 442V445M369.5 24V29M369.5 230V239M369.5 440V445M377.5 24V27M377.5 232V237M377.5 442V445M385.5 24V27M385.5 232V237M385.5 442V445M393.5 24V27M393.5 232V237M393.5 442V445M401.5 24V27M401.5 232V237M401.5 442V445M410.5 24V29M410.5 230V239M410.5 440V445M418.5 24V27M418.5 232V237M418.5 442V445M426.5 24V27M426.5 232V237M426.5 442V445M434.5 24V27M434.5 232V237M434.5 442V445M442.5 24V29M442.5 230V239M442.5 440V445M450.5 24V27M450.5 232V237M450.5 442V445M458.5 24V27M458.5 232V237M458.5 442V445M466.5 24V27M466.5 232V237M466.5 442V445M474.5 24V27M474.5 232V237M474.5 442V445M483.5 24V29M483.5 230V239M483.5 440V445M491.5 24V27M491.5 232V237M491.5 442V445M499.5 24V27M499.5 232V237M499.5 442V445M507.5 24V27M507.5 232V237M507.5 442V445M515.5 24V27M515.5 232V237M515.5 442V445M523.5 24V29M523.5 230V239M523.5 440V445M531.5 24V27M531.5 232V237M531.5 442V445M540.5 24V27M540.5 232V237M540.5 442V445M548.5 24V27M548.5 232V237M548.5 442V445M556.5 24V27M556.5 232V237M556.5 442V445M564.5 24V29M564.5 230V239M564.5 440V445M572.5 24V27M572.5 232V237M572.5 442V445M580.5 24V27M580.5 232V237M580.5 442V445M588.5 24V27M588.5 232V237M588.5 442V445M596.5 24V27M596.5 232V237M596.5 442V445M604.5 24V29M604.5 230V239M604.5 440V445M613.5 24V27M613.5 232V237M613.5 442V445M621.5 24V27M621.5 232V237M621.5 442V445M629.5 24V27M629.5 232V237M629.5 442V445M52 233.5H55M245 233.5H250M440 233.5H445M635 233.5H638M52 230.5H55M245 230.5H250M440 230.5H445M635 230.5H638M52 226.5H55M245 226.5H250M440 226.5H445M635 226.5H638M52 222.5H55M245 222.5H250M440 222.5H445M635 222.5H638M52 219.5H55M245 219.5H250M440 219.5H445M635 219.5H638M52 215.5H57M243 215.5H252M438 215.5H447M633 215.5H638M52 211.5H55M245 211.5H250M440 211.5H445M635 211.5H638M52 207.5H55M245 207.5H250M440 207.5H445M635 207.5H638M52 204.5H55M245 204.5H250M440 204.5H445M635 204.5H638M52 200.5H55M245 200.5H250M440 200.5H445M635 200.5H638M52 196.5H55M245 196.5H250M440 196.5H445M635 196.5H638M52 193.5H55M245 193.5H250M440 193.5H445M635 193.5H638M52 189.5H55M245 189.5H250M440 189.5H445M635 189.5H638M52 185.5H55M245 185.5H250M440 185.5H445M635 185.5H638M52 182.5H55M245 182.5H250M440 182.5H445M635 182.5H638M52 178.5H57M243 178.5H252M438 178.5H447M633 178.5H638M52 174.5H55M245 174.5H250M440 174.5H445M635 174.5H638M52 170.5H55M245 170.5H250M440 170.5H445M635 170.5H638M52 167.5H55M245 167.5H250M440 167.5H445M635 167.5H638M52 163.5H55M245 163.5H250M440 163.5H445M635 163.5H638M52 159.5H55M245 159.5H250M440 159.5H445M635 159.5H638M52 156.5H55M245 156.5H250M440 156.5H445M635 156.5H638M52 152.5H55M245 152.5H250M440 152.5H445M635 152.5H638M52 148.5H55M245 148.5H250M440 148.5H445M635 148.5H638M52 144.5H55M245 144.5H250M440 144.5H445M635 144.5H638M52 141.5H57M243 141.5H252M438 141.5H447M633 141.5H638M52 137.5H55M245 137.5H250M440 137.5H445M635 137.5H638M52 133.5H55M245 133.5H250M440 133.5H445M635 133.5H638M52 130.5H55M245 130.5H250M440 130.5H445M635 130.5H638M52 126.5H55M245 126.5H250M440 126.5H445M635 126.5H638M52 122.5H55M245 122.5H250M440 122.5H445M635 122.5H638M52 118.5H55M245 118.5H250M440 118.5H445M635 118.5H638M52 115.5H55M245 115.5H250M440 115.5H445M635 115.5H638M52 111.5H55M245 111.5H250M440 111.5H445M635 111.5H638M52 107.5H55M245 107.5H250M440 107.5H445M635 107.5H638M52 104.5H57M243 104.5H252M438 104.5H447M633 104.5H638M52 100.5H55M245 100.5H250M440 100.5H445M635 100.5H638M52 96.5H55M245 96.5H250M440 96.5H445M635 96.5H638M52 92.5H55M245 92.5H250M440 92.5H445M635 92.5H638M52 89.5H55M245 89.5H250M440 89.5H445M635 89.5H638M52 85.5H55M245 85.5H250M440 85.5H445M635 85.5H638M52 81.5H55M245 81.5H250M440 81.5H445M635 81.5H638M52 78.5H55M245 78.5H250M440 78.5H445M635 78.5H638M52 74.5H55M245 74.5H250M440 74.5H445M635 74.5H638M52 70.5H55M245 70.5H250M440 70.5H445M635 70.5H638M52 67.5H57M243 67.5H252M438 67.5H447M633 67.5H638M52 63.5H55M245 63.5H250M440 63.5H445M635 63.5H638M52 59.5H55M245 59.5H250M440 59.5H445M635 59.5H638M52 55.5H55M245 55.5H250M440 55.5H445M635 55.5H638M52 52.5H55M245 52.5H250M440 52.5H445M635 52.5H638M52 48.5H55M245 48.5H250M440 48.5H445M635 48.5H638M52 44.5H55M245 44.5H250M440 44.5H445M635 44.5H638M52 41.5H55M245 41.5H250M440 41.5H445M635 41.5H638M52 37.5H55M245 37.5H250M440 37.5H445M635 37.5H638M52 33.5H55M245 33.5H250M440 33.5H445M635 33.5H638M52 29.5H57M243 29.5H252M438 29.5H447M633 29.5H638M52 26.5H55M245 26.5H250M440 26.5H445M635 26.5H638M52 443.5H55M245 443.5H250M440 443.5H445M635 443.5H638M52 440.5H55M245 440.5H250M440 440.5H445M635 440.5H638M52 436.5H55M245 436.5H250M440 436.5H445M635 436.5H638M52 433.5H55M245 433.5H250M440 433.5H445M635 433.5H638M52 429.5H57M243 429.5H252M438 429.5H447M633 429.5H638M52 426.5H55M245 426.5H250M440 426.5H445M635 426.5H638M52 422.5H55M245 422.5H250M440 422.5H445M635 422.5H638M52 419.5H55M245 419.5H250M440 419.5H445M635 419.5H638M52 416.5H55M245 416.5H250M440 416.5H445M635 416.5H638M52 412.5H55M245 412.5H250M440 412.5H445M635 412.5H638M52 409.5H55M245 409.5H250M440 409.5H445M635 409.5H638M52 405.5H55M245 405.5H250M440 405.5H445M635 405.5H638M52 402.5H55M245 402.5H250M440 402.5H445M635 402.5H638M52 398.5H55M245 398.5H250M440 398.5H445M635 398.5H638M52 395.5H57M243 395.5H252M438 395.5H447M633 395.5H638M52 391.5H55M245 391.5H250M440 391.5H445M635 391.5H638M52 388.5H55M245 388.5H250M440 388.5H445M635 388.5H638M52 384.5H55M245 384.5H250M440 384.5H445M635 384.5H638M52 381.5H55M245 381.5H250M440 381.5H445M635 381.5H638M52 378.5H55M245 378.5H250M440 378.5H445M635 378.5H638M52 374.5H55M245 374.5H250M440 374.5H445M635 374.5H638M52 371.5H55M245 371.5H250M440 371.5H445M635 371.5H638M52 367.5H55M245 367.5H250M440 367.5H445M635 367.5H638M52 364.5H55M245 364.5H250M440 364.5H445M635 364.5H638M52 360.5H57M243 360.5H252M438 360.5H447M633 360.5H638M52 357.5H55M245 357.5H250M440 357.5H445M635 357.5H638M52 353.5H55M245 353.5H250M440 353.5H445M635 353.5H638M52 350.5H55M245 350.5H250M440 350.5H445M635 350.5H638M52 346.5H55M245 346.5H250M440 346.5H445M635 346.5H638M52 343.5H55M245 343.5H250M440 343.5H445M635 343.5H638M52 339.5H55M245 339.5H250M440 339.5H445M635 339.5H638M52 336.5H55M245 336.5H250M440 336.5H445M635 336.5H638M52 333.5H55M245 333.5H250M440 333.5H445M635 333.5H638M52 329.5H55M245 329.5H250M440 329.5H445M635 329.5H638M52 326.5H57M243 326.5H252M438 326.5H447M633 326.5H638M52 322.5H55M245 322.5H250M440 322.5H445M635 322.5H638M52 319.5H55M245 319.5H250M440 319.5H445M635 319.5H638M52 315.5H55M245 315.5H250M440 315.5H445M635 315.5H638M52 312.5H55M245 312.5H250M440 312.5H445M635 312.5H638M52 308.5H55M245 308.5H250M440 308.5H445M635 308.5H638M52 305.5H55M245 305.5H250M440 305.5H445M635 305.5H638M52 301.5H55M245 301.5H250M440 301.5H445M635 301.5H638M52 298.5H55M245 298.5H250M440 298.5H445M635 298.5H638M52 294.5H55M245 294.5H250M440 294.5H445M635 294.5H638M52 291.5H57M243 291.5H252M438 291.5H447M633 291.5H638M52 288.5H55M245 288.5H250M440 288.5H445M635 288.5H638M52 284.5H55M245 284.5H250M440 284.5H445M635 284.5H638M52 281.5H55M245 281.5H250M440 281.5H445M635 281.5H638M52 277.5H55M245 277.5H250M440 277.5H445M635 277.5H638M52 274.5H55M245 274.5H250M440 274.5H445M635 274.5H638M52 270.5H55M245 270.5H250M440 270.5H445M635 270.5H638M52 267.5H55M245 267.5H250M440 267.5H445M635 267.5H638M52 263.5H55M245 263.5H250M440 263.5H445M635 263.5H638M52 260.5H55M245 260.5H250M440 260.5H445M635 260.5H638M52 256.5H57M243 256.5H252M438 256.5H447M633 256.5H638M52 253.5H55M245 253.5H250M440 253.5H445M635 253.5H638M52 249.5H55M245 249.5H250M440 249.5H445M635 249.5H638M52 246.5H55M245 246.5H250M440 246.5H445M635 246.5H638M52 243.5H55M245 243.5H250M440 243.5H445M635 243.5H638M52 239.5H55M245 239.5H250M440 239.5H445M635 239.5H638M52 236.5H55M245 236.5H250M440 236.5H445M635 236.5H638"/>
<g font-family="DejaVu Sans Light, DejaVu Sans, Liberation Sans, sans-serif" font-weight="200" stroke-width="0.28">
<text y="17.6" font-size="15.1" fill="#000" stroke="#000" ><tspan x="118.3" textLength="40.3" lengthAdjust="spacingAndGlyphs" >LYRA</tspan> <tspan x="165.8" textLength="42.7" lengthAdjust="spacingAndGlyphs" >short</tspan><tspan x="206.1" textLength="17.4" lengthAdjust="spacingAndGlyphs" >-</tspan><tspan x="221.7" textLength="88.5" lengthAdjust="spacingAndGlyphs" >wavelength</tspan> <tspan x="318.9" textLength="72.3" lengthAdjust="spacingAndGlyphs" >channels</tspan> <tspan x="399.9" textLength="15.3" lengthAdjust="spacingAndGlyphs" >(1</tspan> <tspan x="426.3" textLength="55.2" lengthAdjust="spacingAndGlyphs" >minute</tspan> <tspan x="490.3" textLength="81.1" lengthAdjust="spacingAndGlyphs" >averages)</tspan></text>
<text y="33.1" font-size="11" fill="#000" stroke="#000" ><tspan x="31.9" textLength="17.3" lengthAdjust="spacingAndGlyphs" >2.7</tspan></text>
<text y="71.1" font-size="11" fill="#000" stroke="#000" ><tspan x="31.9" textLength="17.3" lengthAdjust="spacingAndGlyphs" >2.6</tspan></text>
<text y="108.1" font-size="11" fill="#000" stroke="#000" ><tspan x="31.9" textLength="17.3" lengthAdjust="spacingAndGlyphs" >2.5</tspan></text>
<text y="145.1" font-size="11" fill="#000" stroke="#000" ><tspan x="31.9" textLength="17.3" lengthAdjust="spacingAndGlyphs" >2.4</tspan></text>
<text y="182.1" font-size="11" fill="#000" stroke="#000" ><tspan x="31.9" textLength="17.3" lengthAdjust="spacingAndGlyphs" >2.3</tspan></text>
<text y="219.1" font-size="11" fill="#000" stroke="#000" ><tspan x="31.9" textLength="17.3" lengthAdjust="spacingAndGlyphs" >2.2</tspan></text>
<text y="260.1" font-size="11" fill="#000" stroke="#000" ><tspan x="31.9" textLength="17.3" lengthAdjust="spacingAndGlyphs" >1.2</tspan></text>
<text y="295.1" font-size="11" fill="#000" stroke="#000" ><tspan x="31.9" textLength="17.3" lengthAdjust="spacingAndGlyphs" >1.1</tspan></text>
<text y="330.1" font-size="11" fill="#000" stroke="#000" ><tspan x="31.9" textLength="17.3" lengthAdjust="spacingAndGlyphs" >1.0</tspan></text>
<text y="364.1" font-size="11" fill="#000" stroke="#000" ><tspan x="31.9" textLength="17.3" lengthAdjust="spacingAndGlyphs" >0.9</tspan></text>
<text y="399.1" font-size="11" fill="#000" stroke="#000" ><tspan x="31.9" textLength="17.3" lengthAdjust="spacingAndGlyphs" >0.8</tspan></text>
<text y="433.1" font-size="11" fill="#000" stroke="#000" ><tspan x="31.9" textLength="17.3" lengthAdjust="spacingAndGlyphs" >0.7</tspan></text>
<text y="462.6" font-size="13" fill="#000" stroke="#000" ><tspan x="47.5" textLength="8.9" lengthAdjust="spacingAndGlyphs" >0</tspan></text>
<text y="462.6" font-size="13" fill="#000" stroke="#000" ><tspan x="88.2" textLength="8.9" lengthAdjust="spacingAndGlyphs" >5</tspan></text>
<text y="462.6" font-size="13" fill="#000" stroke="#000" ><tspan x="124.7" textLength="17.1" lengthAdjust="spacingAndGlyphs" >10</tspan></text>
<text y="462.6" font-size="13" fill="#000" stroke="#000" ><tspan x="165.3" textLength="17.1" lengthAdjust="spacingAndGlyphs" >15</tspan></text>
<text y="462.6" font-size="13" fill="#000" stroke="#000" ><tspan x="205.9" textLength="17.1" lengthAdjust="spacingAndGlyphs" >20</tspan></text>
<text y="462.6" font-size="13" fill="#000" stroke="#000" ><tspan x="242.5" textLength="8.9" lengthAdjust="spacingAndGlyphs" >0</tspan></text>
<text y="462.6" font-size="13" fill="#000" stroke="#000" ><tspan x="283.1" textLength="8.9" lengthAdjust="spacingAndGlyphs" >5</tspan></text>
<text y="462.6" font-size="13" fill="#000" stroke="#000" ><tspan x="319.7" textLength="17.2" lengthAdjust="spacingAndGlyphs" >10</tspan></text>
<text y="462.6" font-size="13" fill="#000" stroke="#000" ><tspan x="360.3" textLength="17.2" lengthAdjust="spacingAndGlyphs" >15</tspan></text>
<text y="462.6" font-size="13" fill="#000" stroke="#000" ><tspan x="400.9" textLength="17.2" lengthAdjust="spacingAndGlyphs" >20</tspan></text>
<text y="462.6" font-size="13" fill="#000" stroke="#000" ><tspan x="437.5" textLength="8.9" lengthAdjust="spacingAndGlyphs" >0</tspan></text>
<text y="462.6" font-size="13" fill="#000" stroke="#000" ><tspan x="478.1" textLength="8.9" lengthAdjust="spacingAndGlyphs" >5</tspan></text>
<text y="462.6" font-size="13" fill="#000" stroke="#000" ><tspan x="514.7" textLength="17.2" lengthAdjust="spacingAndGlyphs" >10</tspan></text>
<text y="462.6" font-size="13" fill="#000" stroke="#000" ><tspan x="555.3" textLength="17.2" lengthAdjust="spacingAndGlyphs" >15</tspan></text>
<text y="462.6" font-size="13" fill="#000" stroke="#000" ><tspan x="595.9" textLength="17.2" lengthAdjust="spacingAndGlyphs" >20</tspan></text>
<text y="478.6" font-size="12.8" fill="#000" stroke="#000" ><tspan x="53.6" textLength="30.3" lengthAdjust="spacingAndGlyphs" >Time</tspan> <tspan x="90.4" textLength="9.9" lengthAdjust="spacingAndGlyphs" font-size="17" stroke="none">/</tspan> <tspan x="107.6" textLength="7.3" lengthAdjust="spacingAndGlyphs" >h</tspan> <tspan x="121.6" textLength="29.3" lengthAdjust="spacingAndGlyphs" >UTC,</tspan> <tspan x="157.0" textLength="16.9" lengthAdjust="spacingAndGlyphs" >08</tspan> <tspan x="181.0" textLength="23.9" lengthAdjust="spacingAndGlyphs" >Nov</tspan> <tspan x="210.6" textLength="35.3" lengthAdjust="spacingAndGlyphs" >2023</tspan></text>
<text y="478.6" font-size="12.8" fill="#000" stroke="#000" ><tspan x="300.0" textLength="16.9" lengthAdjust="spacingAndGlyphs" >09</tspan> <tspan x="324.0" textLength="23.9" lengthAdjust="spacingAndGlyphs" >Nov</tspan> <tspan x="353.6" textLength="35.3" lengthAdjust="spacingAndGlyphs" >2023</tspan></text>
<text y="478.6" font-size="12.8" fill="#000" stroke="#000" ><tspan x="496.5" textLength="15.9" lengthAdjust="spacingAndGlyphs" >10</tspan> <tspan x="519.5" textLength="23.9" lengthAdjust="spacingAndGlyphs" >Nov</tspan> <tspan x="549.0" textLength="35.4" lengthAdjust="spacingAndGlyphs" >2023</tspan></text>
<text y="494.9" font-size="10" fill="#000" stroke="#000" ><tspan x="488.4" textLength="56.4" lengthAdjust="spacingAndGlyphs" >ROB/SIDC,</tspan> <tspan x="548.6" textLength="47.3" lengthAdjust="spacingAndGlyphs" >Brussels,</tspan> <tspan x="600.2" textLength="42.8" lengthAdjust="spacingAndGlyphs" >Belgium</tspan></text>
<text y="40" font-size="13.3" fill="#0000ff" stroke="#0000ff" ><tspan x="65.0" textLength="51.0" lengthAdjust="spacingAndGlyphs" >Channel</tspan> <tspan x="123.0" textLength="10.0" lengthAdjust="spacingAndGlyphs" >2</tspan><tspan x="132.2" textLength="12.5" lengthAdjust="spacingAndGlyphs" >-</tspan><tspan x="143.0" textLength="9.0" lengthAdjust="spacingAndGlyphs" >3</tspan></text>
<text y="40" font-size="13.3" fill="#0000ff" stroke="#0000ff" ><tspan x="259.0" textLength="68.0" lengthAdjust="spacingAndGlyphs" >Aluminium</tspan> <tspan x="334.0" textLength="32.6" lengthAdjust="spacingAndGlyphs" >Filter</tspan></text>
<text y="40" font-size="13.3" fill="#0000ff" stroke="#0000ff" ><tspan x="457.0" textLength="15.0" lengthAdjust="spacingAndGlyphs" >17</tspan><tspan x="471.1" textLength="13.9" lengthAdjust="spacingAndGlyphs" >-</tspan><tspan x="483.0" textLength="37.4" lengthAdjust="spacingAndGlyphs" >80nm</tspan> <tspan x="527.6" textLength="12.4" lengthAdjust="spacingAndGlyphs" >+</tspan> <tspan x="545.0" textLength="29.0" lengthAdjust="spacingAndGlyphs" >Xray</tspan></text>
<text y="250" font-size="13.3" fill="#7f7f7f" stroke="#7f7f7f" ><tspan x="65.0" textLength="51.0" lengthAdjust="spacingAndGlyphs" >Channel</tspan> <tspan x="123.0" textLength="10.0" lengthAdjust="spacingAndGlyphs" >2</tspan><tspan x="132.2" textLength="12.5" lengthAdjust="spacingAndGlyphs" >-</tspan><tspan x="142.6" textLength="9.4" lengthAdjust="spacingAndGlyphs" >4</tspan></text>
<text y="250" font-size="13.3" fill="#7f7f7f" stroke="#7f7f7f" ><tspan x="260.0" textLength="65.4" lengthAdjust="spacingAndGlyphs" >Zirconium</tspan> <tspan x="332.0" textLength="32.6" lengthAdjust="spacingAndGlyphs" >Filter</tspan></text>
<text y="250" font-size="13.3" fill="#7f7f7f" stroke="#7f7f7f" ><tspan x="455.0" textLength="10.0" lengthAdjust="spacingAndGlyphs" >6</tspan><tspan x="464.2" textLength="12.5" lengthAdjust="spacingAndGlyphs" >-</tspan><tspan x="475.0" textLength="36.6" lengthAdjust="spacingAndGlyphs" >20nm</tspan> <tspan x="519.0" textLength="12.0" lengthAdjust="spacingAndGlyphs" >+</tspan> <tspan x="536.4" textLength="29.2" lengthAdjust="spacingAndGlyphs" >Xray</tspan></text>
<text transform="translate(22.8 209) rotate(-90)" font-size="10.5" y="0" fill="#000" stroke="#000"><tspan x="-0.5" textLength="53.2" lengthAdjust="spacingAndGlyphs" >Calibrated</tspan> <tspan x="56.5" textLength="32.2" lengthAdjust="spacingAndGlyphs" >Signal</tspan> <tspan x="93.3" textLength="9.0" lengthAdjust="spacingAndGlyphs" font-size="15" stroke="none">/</tspan> <tspan x="106.1" textLength="23.6" lengthAdjust="spacingAndGlyphs" >(mW</tspan> <tspan x="135.4" textLength="8.5" lengthAdjust="spacingAndGlyphs" >m</tspan><tspan x="144.4" textLength="10.8" lengthAdjust="spacingAndGlyphs" dy="-5.6" font-size="6.8">-2</tspan><tspan x="154.1" textLength="5.1" lengthAdjust="spacingAndGlyphs" dy="5.6">)</tspan></text>
<text transform="translate(22.8 419) rotate(-90)" font-size="10.5" y="0" fill="#000" stroke="#000"><tspan x="-0.5" textLength="53.2" lengthAdjust="spacingAndGlyphs" >Calibrated</tspan> <tspan x="56.5" textLength="32.2" lengthAdjust="spacingAndGlyphs" >Signal</tspan> <tspan x="93.3" textLength="9.0" lengthAdjust="spacingAndGlyphs" font-size="15" stroke="none">/</tspan> <tspan x="106.1" textLength="23.6" lengthAdjust="spacingAndGlyphs" >(mW</tspan> <tspan x="135.4" textLength="8.5" lengthAdjust="spacingAndGlyphs" >m</tspan><tspan x="144.4" textLength="10.8" lengthAdjust="spacingAndGlyphs" dy="-5.6" font-size="6.8">-2</tspan><tspan x="154.1" textLength="5.1" lengthAdjust="spacingAndGlyphs" dy="5.6">)</tspan></text>
</g>
</svg>
</body></html>
